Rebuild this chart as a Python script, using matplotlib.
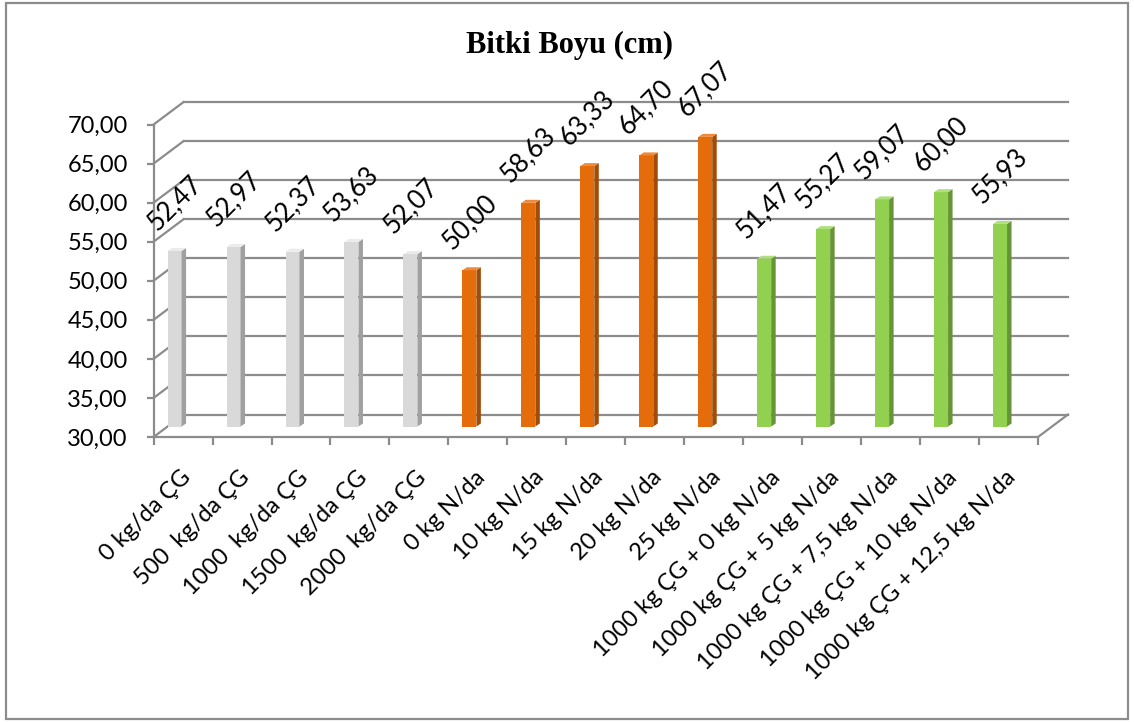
import matplotlib.pyplot as plt
import numpy as np
from matplotlib.patches import Polygon, Rectangle
from matplotlib.transforms import ScaledTranslation

plt.rcParams['font.family'] = ['Lato', 'DejaVu Sans']

## data
categories = ["0 kg/da ÇG", "500  kg/da ÇG", "1000  kg/da ÇG", "1500  kg/da ÇG", "2000  kg/da ÇG",
              "0 kg N/da", "10 kg N/da", "15 kg N/da", "20 kg N/da", "25 kg N/da",
              "1000 kg ÇG + 0 kg N/da", "1000 kg ÇG + 5 kg N/da", "1000 kg ÇG + 7,5 kg N/da",
              "1000 kg ÇG + 10 kg N/da", "1000 kg ÇG + 12,5 kg N/da"]
values = [52.47, 52.97, 52.37, 53.63, 52.07,
          50.00, 58.63, 63.33, 64.70, 67.07,
          51.47, 55.27, 59.07, 60.00, 55.93]
groups = [0] * 5 + [1] * 5 + [2] * 5
y_ticks = [30, 35, 40, 45, 50, 55, 60, 65, 70]
title = "Bitki Boyu (cm)"

# face, side, top colours per group (grey, orange, green)
face_col = ['#d9d9d9', '#e46c0a', '#92d050']
side_col = ['#a0a0a0', '#a24d07', '#669436']
top_col = ['#ebebeb', '#ef8a3a', '#b0e07e']
grid_col = '#8c8c8c'

W, H = 1134, 722
fig = plt.figure(figsize=(W / 100, H / 100), dpi=100)
ax = fig.add_axes([153.6 / W, (H - 437) / H, (1038 - 153.6) / W, (437 - 124.5) / H])
ax.set_xlim(-0.5, 14.5)
ax.set_ylim(30, 70)

px_x = (1038 - 153.6) / 15      # pixels per category
px_y = (437 - 124.5) / 40       # pixels per value unit
ddx, ddy = 30 / px_x, 22.5 / px_y  # depth of the 3d box

# back wall gridlines and left wall diagonals
for yv in y_ticks:
    ax.plot([-0.5 + ddx, 14.5 + ddx], [yv + ddy, yv + ddy], color=grid_col, lw=1.6, clip_on=False, zorder=1)
    ax.plot([-0.5, -0.5 + ddx], [yv, yv + ddy], color=grid_col, lw=1.6, clip_on=False, zorder=1)
ax.plot([14.5, 14.5 + ddx], [30, 30 + ddy], color=grid_col, lw=1.6, clip_on=False, zorder=1)

# bars
x = np.arange(len(values)) - 8.5 / px_x
bw = 14 / px_x
base = 30 + 10.5 / px_y
sdx, sdy = 4.5 / px_x, 3 / px_y
tops = [v + 10.5 / px_y for v in values]
ax.bar(x, np.array(values) - 30, width=bw, bottom=base,
       color=[face_col[g] for g in groups], zorder=3)
for xi, t, g in zip(x, tops, groups):
    xl, xr = xi - bw / 2, xi + bw / 2
    ax.add_patch(Polygon([(xr, base), (xr + sdx, base + sdy), (xr + sdx, t + sdy), (xr, t)],
                         closed=True, facecolor=side_col[g], edgecolor='none', zorder=3))
    ax.add_patch(Polygon([(xl, t), (xl + sdx, t + sdy), (xr + sdx, t + sdy), (xr, t)],
                         closed=True, facecolor=top_col[g], edgecolor='none', zorder=3))

# data labels
for xi, t, v in zip(x, tops, values):
    ax.annotate(f"{v:.2f}".replace('.', ','), xy=(xi, t), xytext=(0, 48 * 0.72),
                textcoords='offset points', rotation=45, ha='center', va='center',
                fontsize=18.5, color='black', annotation_clip=False)

# axes styling
for s in ['top', 'right']:
    ax.spines[s].set_visible(False)
for s in ['left', 'bottom']:
    ax.spines[s].set_color(grid_col)
    ax.spines[s].set_linewidth(1.6)
ax.set_yticks(y_ticks)
ax.set_yticklabels([f"{t:.2f}".replace('.', ',') for t in y_ticks], fontsize=17)
ax.tick_params(axis='y', length=5, width=1.6, color=grid_col, pad=13.5)

ax.set_xticks(np.arange(-0.5, 15, 1), minor=True)
ax.tick_params(axis='x', which='minor', length=6, width=1.6, color=grid_col)
ax.set_xticks(np.arange(len(categories)))
ax.set_xticklabels(categories, rotation=45, ha='right', va='center',
                   rotation_mode='anchor', fontsize=17)
ax.tick_params(axis='x', which='major', length=0, pad=0)
off = ScaledTranslation(4 / 100, -37 / 100, fig.dpi_scale_trans)
for lab in ax.get_xticklabels():
    lab.set_transform(lab.get_transform() + off)

fig.text(570 / W, 1 - 45 / H, title, ha='center', va='center', fontsize=22,
         fontweight='bold', family='Liberation Serif')

fig.add_artist(Rectangle((6 / W, 3 / H), 1122 / W, 716 / H, transform=fig.transFigure,
                         fill=False, edgecolor=grid_col, lw=1.6))

fig.savefig('out.png', dpi=100)
